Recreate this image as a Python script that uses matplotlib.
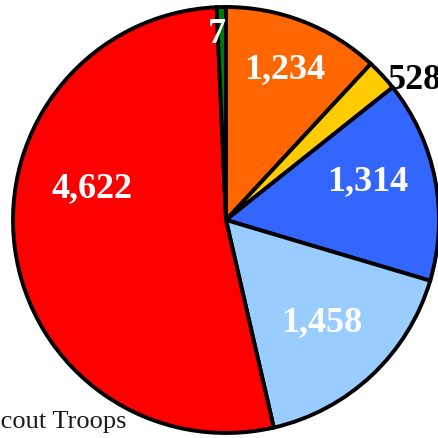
import numpy as np
import matplotlib.pyplot as plt

# slices clockwise from 12 o'clock
categories = ["Orange", "Yellow", "Blue", "Light Blue", "Scout Troops", "Green"]
count_labels = ["1,234", "528", "1,314", "1,458", "4,622", "7"]
# slice shares (%)
shares = [11.9, 2.4, 15.3, 16.8, 52.9, 0.7]

colors = ["#FF6600", "#FFCC00", "#3366FF", "#99CCFF", "#FF0000", "#007A00"]
text_colors = ["white", "black", "white", "white", "white", "white"]
# (radius factor, angle nudge in degrees, horizontal alignment)
label_place = [(0.76, 0, "center"), (1.0, -2, "left"), (0.69, 4, "center"),
               (0.66, 0, "center"), (0.645, -21, "center"), (0.87, 1.5, "center")]

W, H = 439, 438
cx, cy, R = 226, H - 220, 213

fig = plt.figure(figsize=(W / 100, H / 100), dpi=100)
ax = fig.add_axes([0, 0, 1, 1])

wedges, _ = ax.pie(shares, colors=colors, startangle=90, counterclock=False,
                   center=(cx, cy), radius=R,
                   wedgeprops=dict(edgecolor="black", linewidth=2.8))

for w, lab, tc, (rf, nudge, ha) in zip(wedges, count_labels, text_colors, label_place):
    mid = np.deg2rad((w.theta1 + w.theta2) / 2 + nudge)
    x = cx + rf * R * np.cos(mid)
    y = cy + rf * R * np.sin(mid)
    ax.text(x, y, lab, ha=ha, va="center", color=tc, fontsize=26,
            fontweight="bold", family="Liberation Serif")

# category name of the big slice, partly off the left edge
ax.text(-14, H - 428, categories[4], ha="left", va="baseline",
        fontsize=19, color="#1a1a1a", family="Liberation Serif")

ax.set_xlim(0, W)
ax.set_ylim(0, H)
ax.set_aspect("equal")
ax.axis("off")

fig.savefig("out.png", dpi=100)
